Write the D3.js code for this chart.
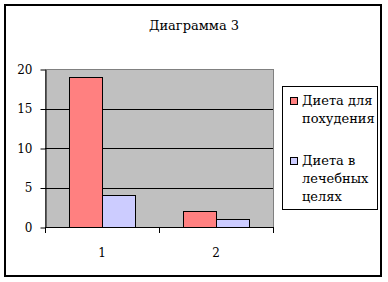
<!DOCTYPE html>
<meta charset="utf-8">
<style>
  body { margin: 0; background: #fff; }
  text { font-family: "DejaVu Serif", "Liberation Serif", serif; fill: #000; }
</style>
<svg width="388" height="282"></svg>
<script src="https://d3js.org/d3.v7.min.js"></script>
<script>
// data
var categories = ['1', '2']
var seriesNames = ['Диета для похудения', 'Диета в лечебных целях']
var slimming = [19, 2]
var medical = [4, 1]
var yTicks = [0, 5, 10, 15, 20]
var seriesColors = ['#ff8080', '#ccccff']
// legend labels wrap like Excel does it
var legendLines = [['Диета для', 'похудения'], ['Диета в', 'лечебных', 'целях']]

var rows = categories.map(function (c, i) {
  return { cat: c, values: [slimming[i], medical[i]] }
})

var svg = d3.select('svg')

// outer chart frame
svg.append('rect')
  .attr('x', 5).attr('y', 5).attr('width', 376).attr('height', 271)
  .attr('fill', '#fff').attr('stroke', '#000').attr('stroke-width', 2)

svg.append('text')
  .attr('x', 194).attr('y', 30)
  .attr('text-anchor', 'middle')
  .attr('font-size', 13)
  .text('Диаграмма 3')

var plot = { left: 45, right: 273, top: 69, bottom: 227 }

var y = d3.scaleLinear().domain([0, 20]).range([plot.bottom, plot.top])
var x0 = d3.scaleBand().domain(categories).range([plot.left, plot.right])
var x1 = d3.scaleBand().domain([0, 1]).range([24, x0.bandwidth() - 24])

// grey plot area
svg.append('rect')
  .attr('x', plot.left + 0.5).attr('y', plot.top + 0.5)
  .attr('width', plot.right - plot.left).attr('height', plot.bottom - plot.top)
  .attr('fill', '#c0c0c0').attr('stroke', '#808080')

// gridlines
svg.append('g')
  .selectAll('line')
  .data(yTicks.filter(function (t) { return t > 0 && t < 20 }))
  .enter().append('line')
  .attr('x1', plot.left).attr('x2', plot.right)
  .attr('y1', function (d) { return Math.round(y(d)) + 0.5 })
  .attr('y2', function (d) { return Math.round(y(d)) + 0.5 })
  .attr('stroke', '#000')

// bars
var groups = svg.append('g')
  .selectAll('g')
  .data(rows)
  .enter().append('g')
  .attr('transform', function (d) { return 'translate(' + x0(d.cat) + ',0)' })

groups.selectAll('rect')
  .data(function (d) { return d.values })
  .enter().append('rect')
  .attr('x', function (d, i) { return Math.round(x1(i)) + 0.5 })
  .attr('y', function (d) { return Math.round(y(d)) + 0.5 })
  .attr('width', x1.bandwidth())
  .attr('height', function (d) { return Math.round(y(0)) - Math.round(y(d)) })
  .attr('fill', function (d, i) { return seriesColors[i] })
  .attr('stroke', '#000')

// y axis
var yAxis = svg.append('g')
  .attr('transform', 'translate(' + (plot.left + 0.5) + ',0.5)')
  .call(d3.axisLeft(y).tickValues(yTicks).tickSize(5).tickPadding(8).tickSizeOuter(0))
yAxis.attr('font-family', null)
yAxis.selectAll('text').attr('font-size', 12)
yAxis.selectAll('line, path').attr('stroke', '#000')

// x axis: labels in band centres, ticks between categories
var xAxis = svg.append('g')
  .attr('transform', 'translate(0,' + (plot.bottom + 0.5) + ')')
  .call(d3.axisBottom(x0).tickSize(0).tickPadding(21))
xAxis.attr('font-family', null)
xAxis.select('.domain').remove()
xAxis.selectAll('text').attr('font-size', 12)

svg.append('line')
  .attr('x1', plot.left).attr('x2', plot.right + 1)
  .attr('y1', plot.bottom + 0.5).attr('y2', plot.bottom + 0.5)
  .attr('stroke', '#000')

svg.append('g')
  .selectAll('line')
  .data(categories.map(function (c) { return x0(c) }).concat([plot.right]))
  .enter().append('line')
  .attr('x1', function (d) { return d + 0.5 }).attr('x2', function (d) { return d + 0.5 })
  .attr('y1', plot.bottom).attr('y2', plot.bottom + 6)
  .attr('stroke', '#000')

// legend
var legend = svg.append('g')
legend.append('rect')
  .attr('x', 282.5).attr('y', 86.5).attr('width', 95).attr('height', 123)
  .attr('fill', '#fff').attr('stroke', '#000')

var legendTop = [97, 157]
seriesNames.forEach(function (name, i) {
  legend.append('rect')
    .attr('x', 290.5).attr('y', legendTop[i] + 0.5).attr('width', 7).attr('height', 7)
    .attr('fill', seriesColors[i]).attr('stroke', '#000')
  legendLines[i].forEach(function (line, j) {
    legend.append('text')
      .attr('x', 302).attr('y', legendTop[i] + 8 + j * 18)
      .attr('font-size', 13)
      .text(line)
  })
})
</script>
